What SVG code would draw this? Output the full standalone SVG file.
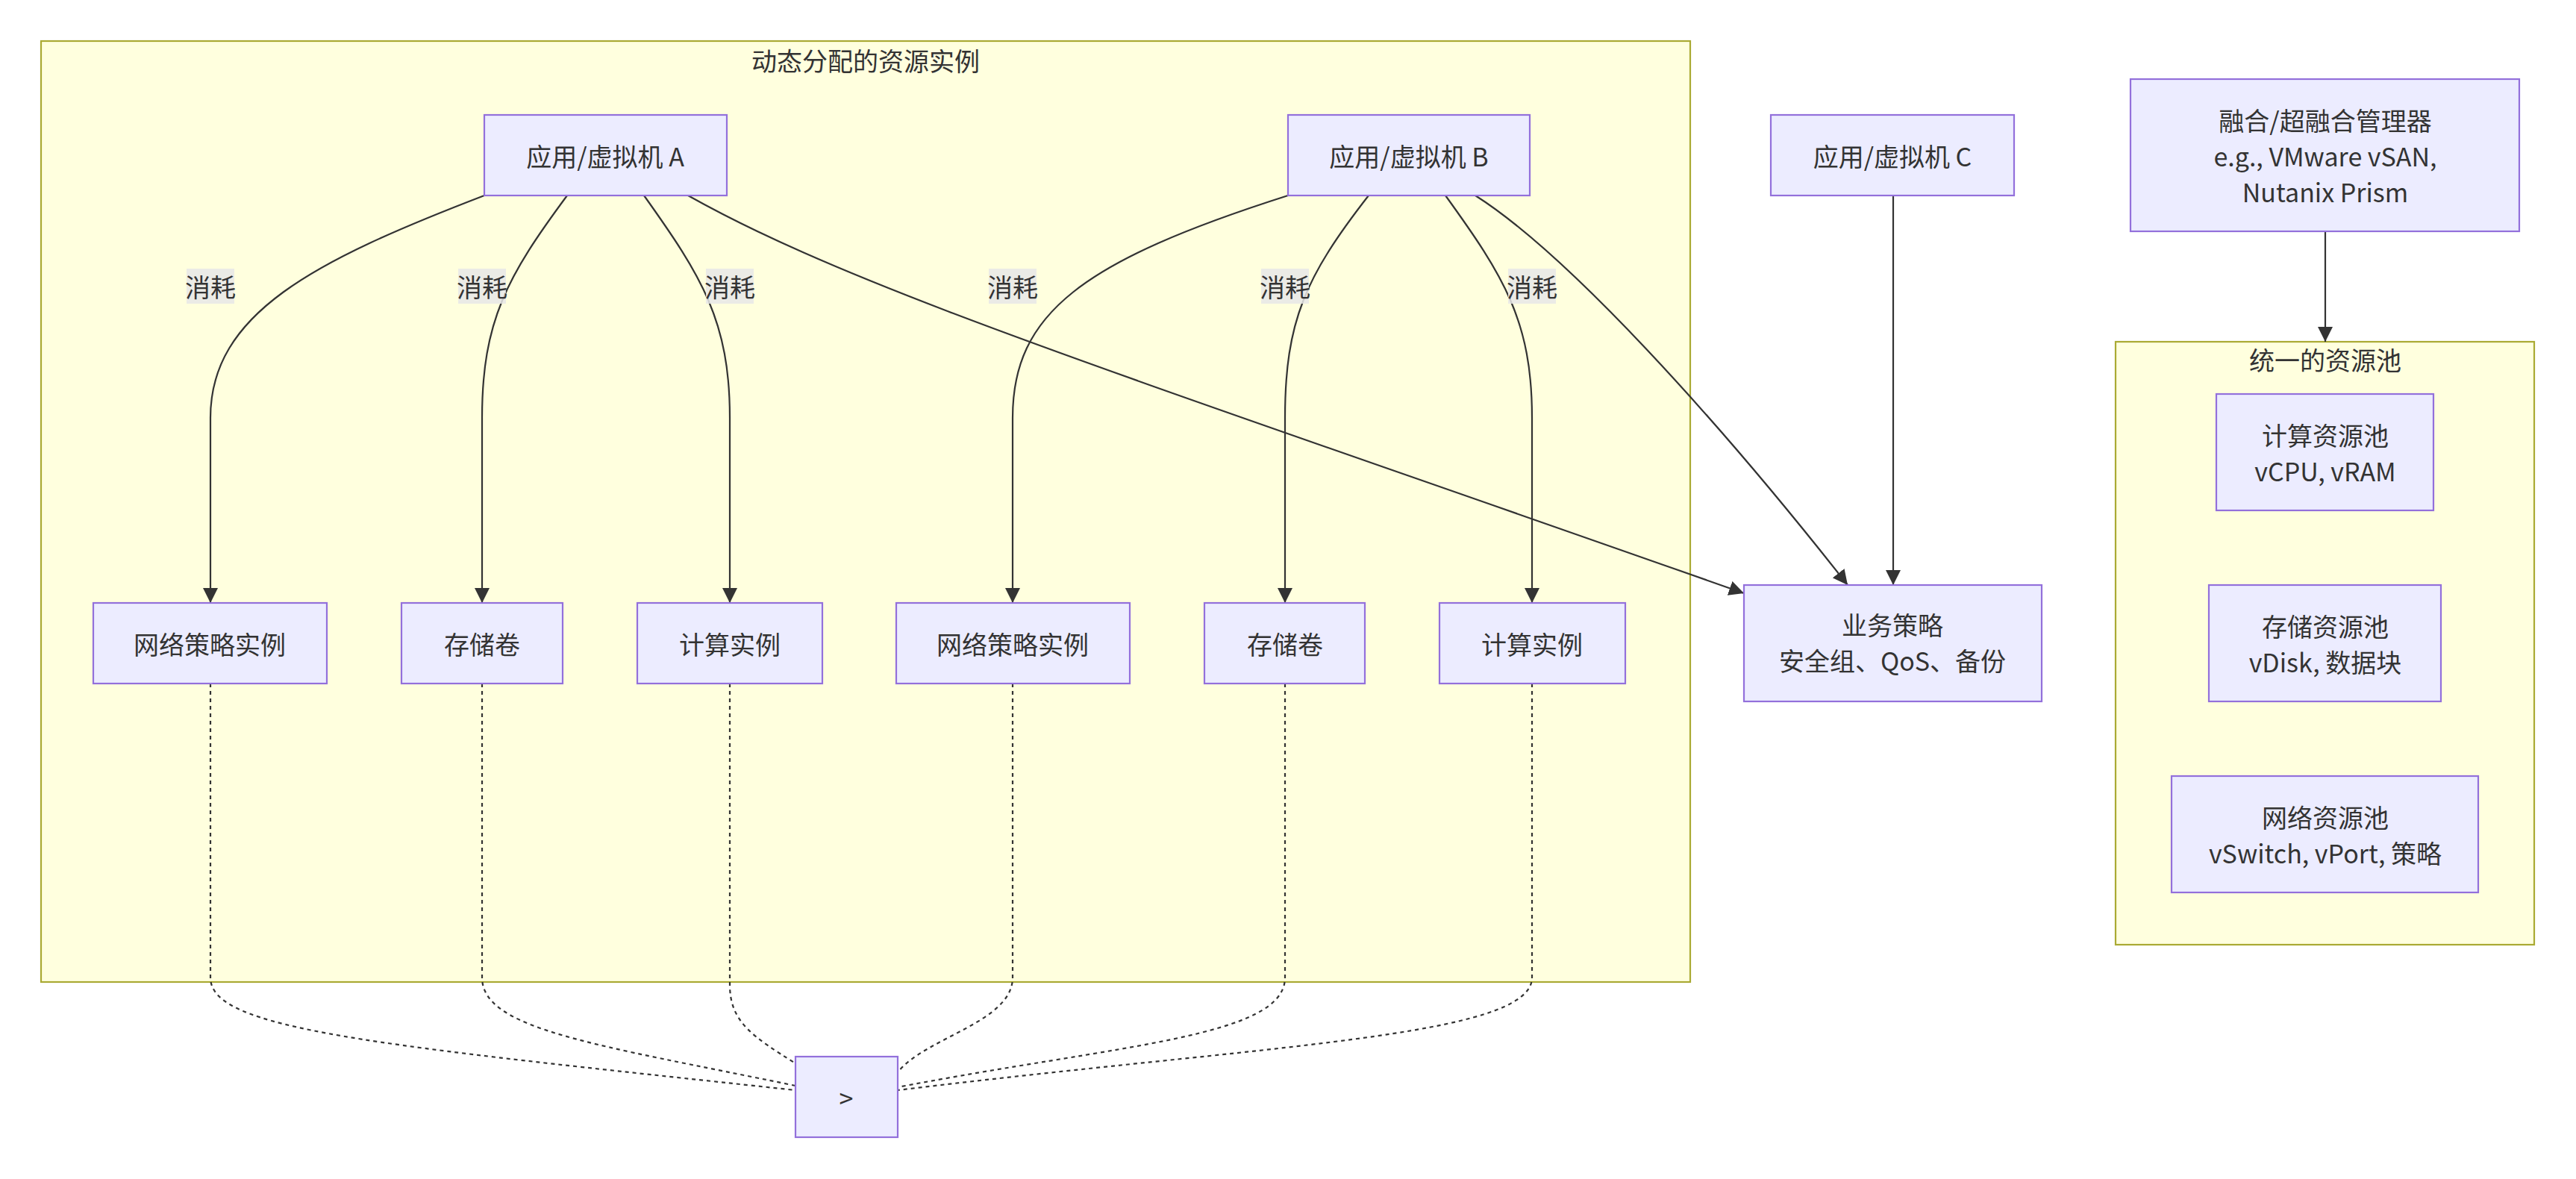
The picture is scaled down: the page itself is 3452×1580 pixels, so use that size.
<svg xmlns="http://www.w3.org/2000/svg" width="3452" height="1580" viewBox="0 0 3452 1580">
<defs>
<marker id="arr" viewBox="0 0 10 10" refX="10" refY="5" markerWidth="20" markerHeight="20" markerUnits="userSpaceOnUse" orient="auto"><path d="M0,0 L10,5 L0,10 z" fill="#333"/></marker>
<style>
.cl{fill:#ffffde;stroke:#aaaa33;stroke-width:2.2}
.n{fill:#ECECFF;stroke:#9370DB;stroke-width:2.2}
text{font-family:"Noto Sans CJK SC","Noto Sans",sans-serif;fill:#333;font-size:34px;text-anchor:middle;dominant-baseline:central}
.e{fill:none;stroke:#333;stroke-width:2.2}
.d{fill:none;stroke:#333;stroke-width:2.2;stroke-dasharray:5 5}
.lb{fill:#e8e8e8;opacity:0.85}
</style>
</defs>
<g id="cluster-dyn"><rect class="cl" x="55" y="55" width="2210" height="1261"/><text x="1160" y="80">动态分配的资源实例</text></g>
<g id="cluster-pool"><rect class="cl" x="2835" y="458" width="561" height="808"/><text x="3116" y="481">统一的资源池</text></g>
<g id="connectors">
<path class="e" marker-end="url(#arr)" d="M649,262 C420,350 282,420 282,560 L282,808"/>
<path class="e" marker-end="url(#arr)" d="M760,262 C680,370 646,430 646,560 L646,808"/>
<path class="e" marker-end="url(#arr)" d="M863,262 C940,370 978,430 978,560 L978,808"/>
<path class="e" marker-end="url(#arr)" d="M922,262 C1150,390 1500,500 2337,795"/>
<path class="e" marker-end="url(#arr)" d="M1726,262 C1450,350 1357,420 1357,560 L1357,808"/>
<path class="e" marker-end="url(#arr)" d="M1834,262 C1750,370 1722,430 1722,560 L1722,808"/>
<path class="e" marker-end="url(#arr)" d="M1937,262 C2015,370 2053,430 2053,560 L2053,808"/>
<path class="e" marker-end="url(#arr)" d="M1977,262 C2100,340 2300,560 2476,784"/>
<path class="e" marker-end="url(#arr)" d="M2537,262 L2537,784"/>
<path class="e" marker-end="url(#arr)" d="M3116,310 L3116,458"/>
<path class="d" d="M282,916 L282,1310 C282,1380 500,1400 1066,1461"/>
<path class="d" d="M646,916 L646,1310 C646,1380 800,1400 1066,1455"/>
<path class="d" d="M978,916 L978,1320 C978,1370 1010,1390 1066,1425"/>
<path class="d" d="M1357,916 L1357,1310 C1357,1370 1240,1390 1203,1437"/>
<path class="d" d="M1722,916 L1722,1310 C1722,1390 1500,1400 1203,1457"/>
<path class="d" d="M2053,916 L2053,1310 C2053,1390 1700,1400 1203,1461"/>
<rect class="lb" x="250" y="360" width="64" height="47"/><text x="282" y="383">消耗</text>
<rect class="lb" x="614" y="360" width="64" height="47"/><text x="646" y="383">消耗</text>
<rect class="lb" x="946" y="360" width="64" height="47"/><text x="978" y="383">消耗</text>
<rect class="lb" x="1325" y="360" width="64" height="47"/><text x="1357" y="383">消耗</text>
<rect class="lb" x="1690" y="360" width="64" height="47"/><text x="1722" y="383">消耗</text>
<rect class="lb" x="2021" y="360" width="64" height="47"/><text x="2053" y="383">消耗</text>
</g>
<g id="appA"><rect class="n" x="649" y="154" width="325" height="108"/><text x="811" y="208">应用/虚拟机 A</text></g>
<g id="appB"><rect class="n" x="1726" y="154" width="324" height="108"/><text x="1888" y="208">应用/虚拟机 B</text></g>
<g id="appC"><rect class="n" x="2373" y="154" width="326" height="108"/><text x="2536" y="208">应用/虚拟机 C</text></g>
<g id="net1"><rect class="n" x="125" y="808" width="313" height="108"/><text x="281" y="862">网络策略实例</text></g>
<g id="sto1"><rect class="n" x="538" y="808" width="216" height="108"/><text x="646" y="862">存储卷</text></g>
<g id="comp1"><rect class="n" x="854" y="808" width="248" height="108"/><text x="978" y="862">计算实例</text></g>
<g id="net2"><rect class="n" x="1201" y="808" width="313" height="108"/><text x="1357" y="862">网络策略实例</text></g>
<g id="sto2"><rect class="n" x="1614" y="808" width="215" height="108"/><text x="1722" y="862">存储卷</text></g>
<g id="comp2"><rect class="n" x="1929" y="808" width="249" height="108"/><text x="2053" y="862">计算实例</text></g>
<g id="policy"><rect class="n" x="2337" y="784" width="399" height="156"/><text x="2536" y="836">业务策略</text><text x="2536" y="884">安全组、QoS、备份</text></g>
<g id="mgr"><rect class="n" x="2855" y="106" width="521" height="204"/><text x="3116" y="160">融合/超融合管理器</text><text x="3116" y="208">e.g., VMware vSAN,</text><text x="3116" y="256">Nutanix Prism</text></g>
<g id="cpool"><rect class="n" x="2970" y="528" width="291" height="156"/><text x="3116" y="582">计算资源池</text><text x="3116" y="630">vCPU, vRAM</text></g>
<g id="spool"><rect class="n" x="2960" y="784" width="311" height="156"/><text x="3116" y="838">存储资源池</text><text x="3116" y="886">vDisk, 数据块</text></g>
<g id="npool"><rect class="n" x="2910" y="1040" width="411" height="156"/><text x="3116" y="1094">网络资源池</text><text x="3116" y="1142">vSwitch, vPort, 策略</text></g>
<g id="gt"><rect class="n" x="1066" y="1416" width="137" height="108"/><text x="1134" y="1470">&gt;</text></g>
</svg>
